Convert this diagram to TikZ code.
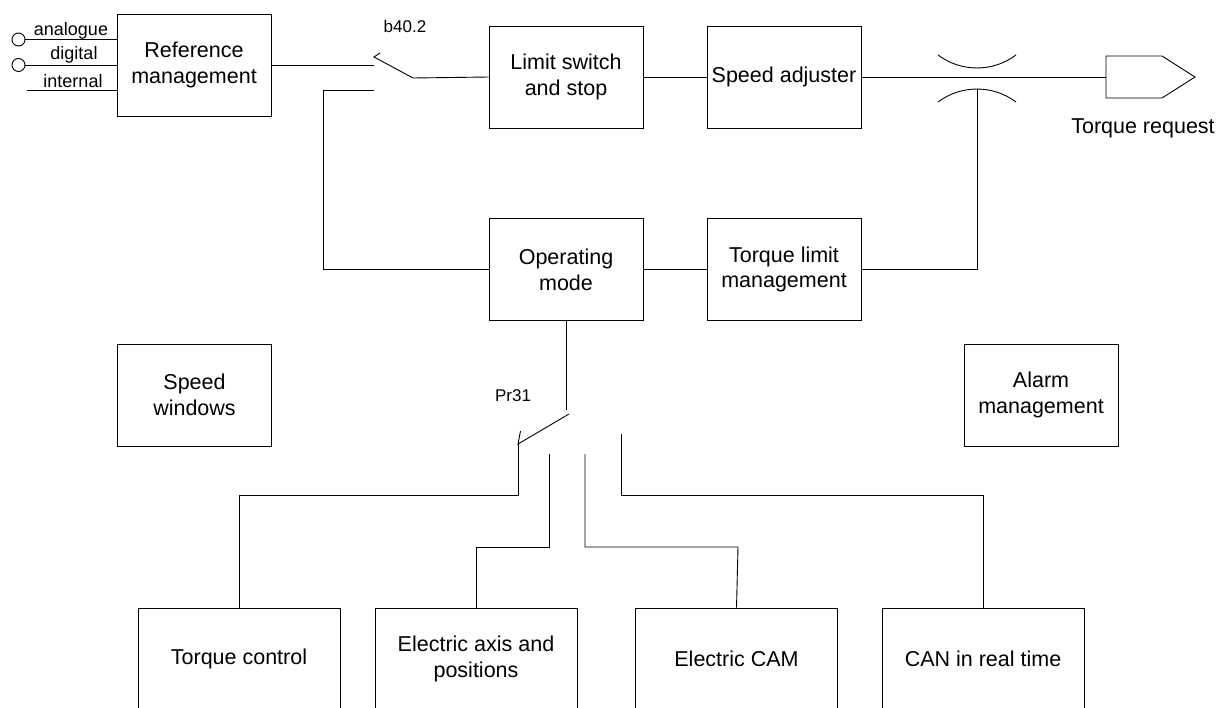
\documentclass[tikz,border=0pt]{standalone}
\usepackage{fontspec}
\setmainfont{Liberation Sans}
\newcommand{\mainsz}{\fontsize{21.5}{25.7}\selectfont}
\newcommand{\smallsz}{\fontsize{17}{20}\selectfont}
\newcommand{\inpsz}{\fontsize{18}{20}\selectfont}
\begin{document}
\begin{tikzpicture}[x=1pt,y=-1pt,line width=0.9pt,
  box/.style={draw, minimum width=154pt, minimum height=102pt, align=center, inner sep=0pt, font=\mainsz},
  bbox/.style={box, minimum width=202pt, minimum height=102pt},
  lbl/.style={inner sep=0pt, anchor=base, font=\smallsz},
  inlbl/.style={lbl, font=\inpsz},
  port/.style={draw, circle, minimum size=13pt, inner sep=0pt}]
\useasboundingbox (0,0) rectangle (1228,707);

% boxes
\node[box] (ref) at (194,65) {Reference\\management};
\node[box] (lim) at (566,77) {Limit switch\\and stop};
\node[box] (sa) at (784,77) {Speed adjuster};
\node[box] (op) at (566,269.5) {Operating\\mode};
\node[box] (tl) at (784,269.5) {Torque limit\\management};
\node[box] (sw) at (194.5,395) {Speed\\windows};
\node[box] (al) at (1041,395) {Alarm\\management};
\node[bbox] (tc) at (239,659) {Torque control};
\node[bbox] (ea) at (476,659) {Electric axis and\\positions};
\node[bbox] (cam) at (736.5,659) {Electric CAM};
\node[bbox] (can) at (983,659) {CAN in real time};

% inputs
\node[inlbl] (lan) at (71,35) {analogue};
\node[inlbl] (ldi) at (74,59) {digital};
\node[inlbl] (lin) at (73,87) {internal};
\node[port] (ia) at (18.5,39.5) {};
\node[port] (id) at (18.5,65) {};
\coordinate (ii) at (27,90);
\draw (ia.east) -- (ia.east -| ref.west);
\draw (id.east) -- (id.east -| ref.west);
\draw (ii) -- (ii -| ref.west);

% switch b40.2
\node[lbl] (lb40) at (405,32) {b40.2};
\coordinate (s1a) at (374,65);
\coordinate (s1b) at (374,57);
\coordinate (s1t) at (380,53);
\coordinate (s1c) at (413,78);
\coordinate (s1d) at (374,90);
\coordinate (s1e) at (323,90);
\draw (ref.east) -- (s1a);
\draw (s1t) -- (s1b) -- (s1c) -- (lim.west);
\draw (s1d) -- (s1e) |- (op.west);

\draw (lim.east) -- (sa.west);
\draw (op.east) -- (tl.west);

% crossing and output
\coordinate (outw) at (1106,77);
\draw (sa.east) -- (outw);
\draw (938,55) .. controls (961.1,72.3) and (992.9,72.3) .. (1016,55);
\draw (938,102) .. controls (961.1,84.7) and (992.9,84.7) .. (1016,102);
\coordinate (cr) at (977,89);
\draw (cr) |- (tl.east);
\draw (1106,56) -- (1162,56) -- (1195,77) -- (1162,98) -- (1106,98) -- cycle;
\node[inner sep=0pt, anchor=base, font=\mainsz] (treq) at (1143,133) {Torque request};

% switch Pr31
\node[lbl] (lpr) at (513,401) {Pr31};
\coordinate (p0) at (op.south |- 0,410);
\coordinate (pb) at (569,414);
\coordinate (pe) at (518,444);
\coordinate (pt) at (520.5,431);
\draw (op.south) -- (p0);
\draw (pb) -- (pe) -- (pt);
\coordinate (k1) at (518,495);
\draw (pe) -- (k1) -| (tc.north);
\coordinate (c2a) at (549,454);
\coordinate (c2b) at (549,547);
\draw (c2a) -- (c2b) -| (ea.north);
\coordinate (c3a) at (585,454);
\coordinate (c3b) at (585,547);
\coordinate (c3c) at (738,547);
\draw (c3a) -- (c3b) -- (c3c) -- (cam.north);
\coordinate (c4a) at (621,434);
\coordinate (c4b) at (621,495.5);
\draw (c4a) -- (c4b) -| (can.north);
\end{tikzpicture}
\end{document}
